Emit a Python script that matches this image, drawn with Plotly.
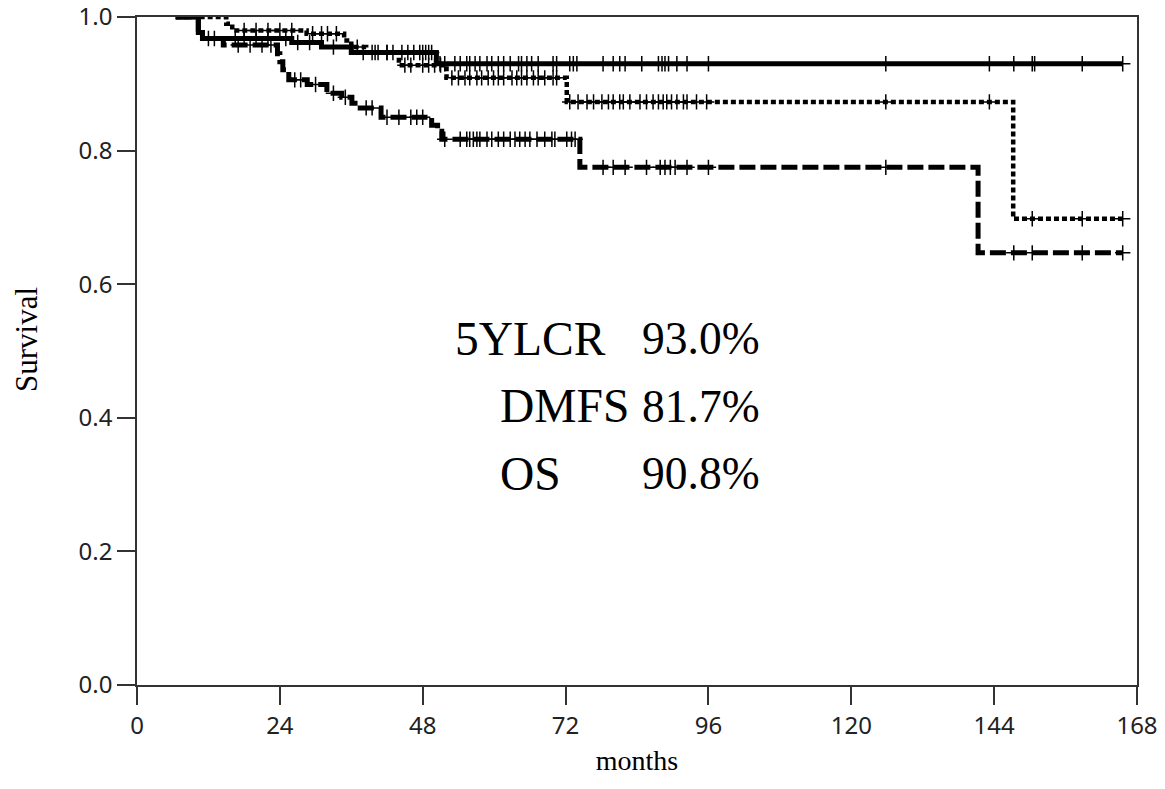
import numpy as np
import plotly.graph_objects as go

# ---- data (months, survival) ----
lcr_t = [6.5, 10.3, 11.0, 26.0, 31.0, 36.0, 50.3, 165.6]
lcr_s = [1.0, 0.977, 0.968, 0.962, 0.955, 0.947, 0.930, 0.930]
lcr_cens = [16.5, 18, 20, 22, 25, 27, 29, 33, 38, 39.5, 40.5, 42, 43, 44.5, 45.5, 46.5,
            47.5, 48, 48.5, 49, 49.5, 50.9, 51.7, 53.4, 54.3, 55.4, 55.9, 56.8, 57.6, 58.8,
            59.6, 60.7, 61.6, 62.7, 64.1, 64.6, 65.5, 66.3, 67.4, 69.9, 70.5, 72.7, 73.3,
            73.9, 78.3, 80.0, 81.1, 82.0, 84.8, 87.6, 88.2, 88.7, 89.3, 90.7, 92.4, 96.0,
            125.8, 143.2, 147.3, 150.4, 150.8, 158.8, 165.6]

dmfs_t = [6.5, 10.3, 11.0, 14.5, 23.6, 24.0, 24.5, 25.5, 28.6, 31.9, 34.4, 36.1, 37.5,
          41.0, 49.5, 50.5, 51.2, 74.4, 141.3, 165.6]
dmfs_s = [1.0, 0.977, 0.968, 0.958, 0.945, 0.933, 0.921, 0.906, 0.899, 0.886, 0.880,
          0.871, 0.864, 0.850, 0.838, 0.829, 0.817, 0.775, 0.647, 0.647]
dmfs_cens = [12, 13, 17, 19, 21, 22.5, 26.5, 27.5, 30, 33, 35, 38.5, 39.5, 42, 44, 46, 47,
             48, 51.7, 54.3, 55.4, 55.9, 56.5, 57.1, 57.6, 58.8, 59.6, 60.7, 61.6, 62.7,
             63.5, 64.3, 65.2, 66.0, 67.2, 68.5, 69.7, 70.2, 72.2, 73.0, 73.6, 78.3, 80.0,
             82.0, 85.6, 87.9, 88.7, 89.6, 90.4, 92.4, 96.0, 125.8, 147.3, 150.4, 158.8,
             165.6]

os_t = [6.5, 15.0, 16.0, 28.5, 34.8, 36.0, 38.5, 44.0, 52.0, 72.2, 147.2, 165.6]
os_s = [1.0, 0.99, 0.98, 0.975, 0.965, 0.955, 0.947, 0.928, 0.909, 0.873, 0.698, 0.698]
os_cens = [18, 20, 22, 24, 26, 29.5, 31, 32, 33.5, 37, 40, 42, 45, 46, 48, 49, 50, 51,
           52.9, 54.0, 55.1, 55.9, 57.1, 57.9, 59.0, 59.9, 60.7, 61.6, 63.0, 63.8, 64.6,
           65.5, 66.6, 67.4, 68.5, 69.9, 70.5, 72.7, 74.1, 75.6, 76.7, 78.1, 79.2, 80.0,
           81.1, 81.7, 82.8, 84.5, 85.6, 86.7, 87.6, 88.4, 89.0, 89.8, 90.7, 91.8, 92.4,
           94.0, 95.7, 125.8, 143.2, 150.4, 158.8, 165.6]

x_ticks = [0, 24, 48, 72, 96, 120, 144, 168]
y_ticks = [0.0, 0.2, 0.4, 0.6, 0.8, 1.0]

labels = ["5YLCR", "DMFS", "OS"]
rates = ["93.0%", "81.7%", "90.8%"]


def step_at(ts, ss, x):
    ts = np.asarray(ts)
    ss = np.asarray(ss)
    i = np.searchsorted(ts, x, side="right") - 1
    i = np.clip(i, 0, len(ss) - 1)
    return ss[i]


fig = go.Figure()
series = [
    (lcr_t, lcr_s, lcr_cens, "solid", 5),
    (os_t, os_s, os_cens, "5px,3px", 4.5),
    (dmfs_t, dmfs_s, dmfs_cens, "16px,5px", 5),
]
for (t, s, c, dash, w), name in zip(series, ["5YLCR", "OS", "DMFS"]):
    fig.add_trace(go.Scatter(x=t, y=s, mode="lines", line=dict(shape="hv", color="black", width=w, dash=dash),
                             name=name, showlegend=False, hoverinfo="skip"))
    fig.add_trace(go.Scatter(x=c, y=step_at(t, s, c), mode="markers",
                             marker=dict(symbol="cross-thin", size=11, line=dict(color="black", width=1.5)),
                             showlegend=False, hoverinfo="skip"))

# annotation table
ann_y = [0.518, 0.417, 0.316]
ann_lx = [0.316, 0.361, 0.361]
for lab, rate, yy, lx in zip(labels, rates, ann_y, ann_lx):
    fig.add_annotation(x=lx, y=yy, xref="paper", yref="paper", text=lab, showarrow=False,
                       xanchor="left", yanchor="middle",
                       font=dict(family="Liberation Serif", size=47.5, color="black"))
    fig.add_annotation(x=0.625, y=yy, xref="paper", yref="paper", text=rate, showarrow=False,
                       xanchor="right", yanchor="middle",
                       font=dict(family="Liberation Serif", size=45.5, color="black"))

# y axis title placed as rotated text
fig.add_annotation(x=-0.11, y=0.5165, xref="paper", yref="paper", text="Survival", showarrow=False,
                   textangle=-90, xanchor="center", yanchor="middle",
                   font=dict(family="Liberation Serif", size=31, color="black"))

axis_common = dict(showgrid=False, zeroline=False, showline=True, linecolor="#333", linewidth=1.5,
                   mirror=True, ticks="outside", ticklen=18, tickwidth=1.5, tickcolor="#333",
                   tickfont=dict(family="Noto Sans", size=24, color="#222"), automargin=False,
                   ticklabeloverflow="allow")

fig.update_layout(
    template="none",
    width=1165, height=789,
    margin=dict(l=137, r=28, t=17, b=104),
    paper_bgcolor="white", plot_bgcolor="white",
    xaxis=dict(range=[0, 168], tickvals=x_ticks, ticktext=[str(v) for v in x_ticks],
               title=dict(text="months", font=dict(family="Liberation Serif", size=28, color="black"), standoff=11),
               **axis_common),
    yaxis=dict(range=[0, 1.0001], tickvals=y_ticks, ticktext=[f"{v:.1f}" for v in y_ticks],
               **axis_common),
)

fig.write_html("out.html")
